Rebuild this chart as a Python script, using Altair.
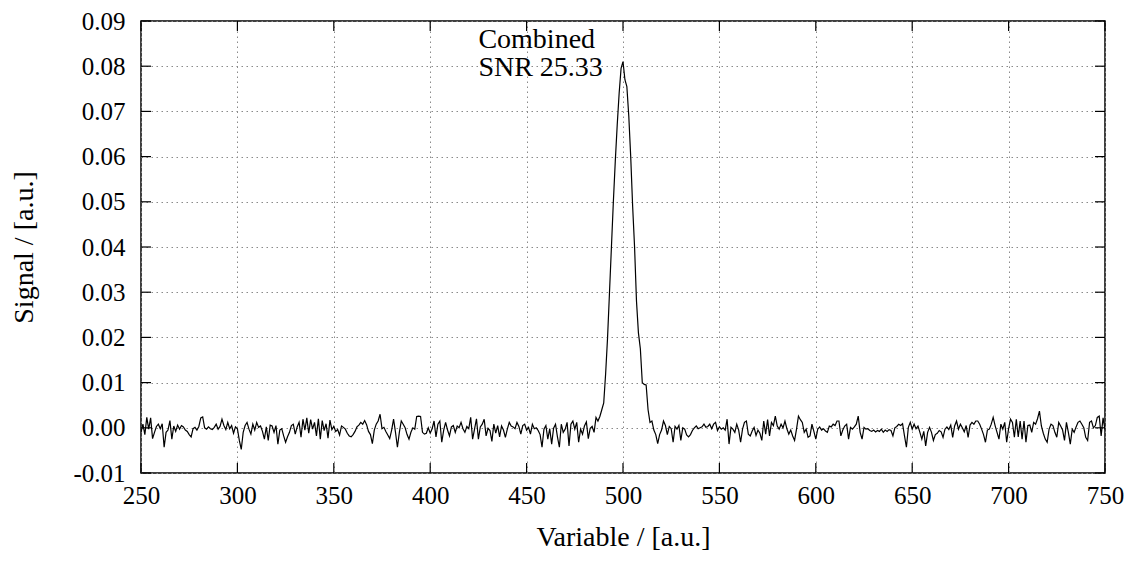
import altair as alt
import pandas as pd

# ---- data (values in thousandths of a.u.), x = 250..750 step 1 ----
x_start = 250
signal_milli = [
    -1.0, 0.8, -1.5, 2.3, -0.3, 2.2, -2.4, -1.0, 0.3, 0.8,
    -0.2, 0.9, -4.3, -1.0, -0.5, 1.6, -2.5, 0.4, -0.8, 0.6,
    -0.3, 0.5, 0.2, -0.5, -0.8, -1.5, -2.0, -0.2, 0.1, -0.5,
    0.3, 2.2, 2.4, 0.0, -0.3, 0.2, -0.2, -0.4, 0.1, 0.8,
    -0.3, 0.3, 1.9, 0.5, -0.4, 1.2, -0.2, 0.5, -1.2, 0.2,
    -0.2, -2.8, -4.8, -1.0, 0.5, 1.2, -0.3, -1.4, 0.8, -0.5,
    1.2, 0.1, 0.4, -0.8, -2.5, 0.2, -2.8, 0.6, 0.4, -1.0,
    0.5, -3.6, -0.5, -0.2, -1.8, -3.2, -2.0, -1.0, 0.5, 0.8,
    -1.4, 0.2, 1.2, -2.1, 1.9, -0.5, 2.2, -1.2, 1.8, -0.3,
    1.2, -1.8, 2.0, -2.5, 1.6, -0.6, 0.9, -2.3, 1.7, -0.4,
    0.3, -0.8, -0.4, -1.6, 0.4, 0.1, -0.3, -1.2, -1.8, -2.0,
    -1.5, -0.8, 0.2, 0.6, 1.2, 0.8, 1.6, 0.7, -0.8, -1.5,
    -3.5, -0.5, 0.8, 1.5, 3.0, -0.2, 0.1, -0.8, -1.6, -2.4,
    -0.5, 1.9, -1.0, -4.3, -1.0, 1.5, 0.8, 0.0, -1.5, -2.5,
    -1.0, 0.0, -0.3, 2.5, 2.6, 2.5, -1.0, -1.4, -1.2, 0.0,
    -1.2, -0.2, 1.5, -2.0, 0.8, 1.5, -3.2, -0.5, 1.2, -0.5,
    -1.8, 0.2, 0.5, -1.0, 0.4, 0.0, 1.2, -0.2, -1.0, 0.3,
    -0.2, 2.3, -2.5, -0.3, 2.0, -2.5, 0.2, 0.8, 1.9, -1.8,
    -0.1, -0.6, -3.0, 0.8, -1.2, 0.5, -2.0, 0.4, -0.5, -2.1,
    -0.3, 1.2, 0.4, 0.2, -0.2, 1.2, 0.3, -1.4, 0.5, 0.8,
    -0.5, 0.1, -1.4, 0.8, -0.2, 0.0, -0.6, -1.5, -4.3, -0.3,
    0.5, -2.5, -0.2, -3.6, -0.1, 0.8, -2.0, -4.3, 0.8, -1.0,
    -0.3, 1.2, -4.0, 0.8, 1.5, -0.3, 1.2, -3.2, -0.3, -1.4,
    0.4, 1.3, -2.4, -0.1, 0.3, -1.0, 2.3, 1.5, 2.5, 4.0,
    5.5, 12.0, 20.0, 30.0, 40.0, 50.0, 59.0, 67.0, 74.0, 79.5,
    81.0, 77.0, 75.5, 69.0, 60.0, 49.0, 40.0, 28.0, 21.0, 17.5,
    10.0, 9.6, 9.5, 4.0, 1.2, 1.5, -0.5, -1.5, -3.5, -1.5,
    -0.5, 1.5, 0.5, -1.5, 0.3, -0.2, -3.2, 0.3, -0.3, 0.5,
    -2.8, 0.0, -0.3, -1.6, -2.0, -1.5, -0.6, 0.0, 0.4, -0.2,
    0.0, 0.2, 0.8, 0.1, 0.3, 0.8, -0.2, 0.8, 1.2, -0.6,
    0.2, -0.3, 0.0, -0.5, 1.9, -3.6, 0.1, -0.3, -1.0, 0.8,
    -0.5, -3.2, -0.3, 1.2, 1.5, -1.4, -1.8, -0.7, 0.1, -1.7,
    -0.5, -1.2, -2.8, 1.5, -1.4, 1.8, -1.8, 1.2, 0.5, 2.6,
    0.4, -0.3, 0.8, 0.0, 1.5, -0.2, -1.4, -0.5, -1.8, -2.8,
    -0.3, 2.6, 1.8, 1.2, -1.0, -0.3, -2.1, -1.8, 0.8, -0.8,
    -2.5, -0.3, 0.2, -0.5, -0.2, -0.7, -1.0, 0.4, 0.2, 0.8,
    0.5, 1.5, 1.5, -1.8, -0.5, 0.4, 0.8, -2.5, 0.1, -0.3,
    0.2, 0.8, 2.6, -1.0, -2.5, 0.1, -0.3, -0.2, -0.6, -0.8,
    -0.5, -0.9, -0.6, -0.8, -0.3, -1.0, -0.5, -0.8, -0.4, -0.6,
    -1.8, 0.0, 0.3, 0.8, 0.5, 0.9, -1.8, -4.3, 0.1, 1.2,
    -0.3, 0.8, -0.2, 0.4, -1.0, -2.5, -0.8, -4.0, -1.0, 0.1,
    -1.0, -2.8, -1.5, -1.2, -0.6, -0.9, -2.1, -0.3, 0.2, -0.4,
    0.6, -2.1, 0.4, 1.5, -0.3, 0.8, 0.0, -0.9, 0.5, -2.1,
    0.6, 1.2, 0.8, 1.5, 1.5, 0.8, -0.3, -1.5, -3.2, -0.5,
    -0.3, 0.8, 2.3, 0.5, -1.0, -2.5, 0.8, -0.3, 1.2, -3.2,
    -0.2, 1.9, 1.2, -2.1, 1.9, -2.0, 1.5, -2.5, 1.5, -3.2,
    0.5, 0.6, -1.0, 1.2, 0.8, 2.0, 3.7, 0.4, -1.2, -2.5,
    -3.2, -0.3, 0.8, 0.5, -1.0, -2.1, 1.2, 0.4, -0.5, -2.8,
    1.2, -1.0, -3.6, -0.3, -1.0, 0.2, 1.2, 1.5, 0.8, 0.0,
    -2.1, -2.8, 1.2, 1.5, 0.0, 0.5, 2.3, 2.6, -1.8, 2.2,
    -0.4,
]

x_ticks = [250, 300, 350, 400, 450, 500, 550, 600, 650, 700, 750]
y_ticks = [-0.01, 0.0, 0.01, 0.02, 0.03, 0.04, 0.05, 0.06, 0.07, 0.08, 0.09]

ann_x = [425]
ann_y = [0.0841]
ann_text = ["Combined", "SNR 25.33"]

x_title = "Variable / [a.u.]"
y_title = "Signal / [a.u.]"

# ---- tables ----
df = pd.DataFrame({
    "x": [x_start + i for i in range(len(signal_milli))],
    "y": [v / 1000.0 for v in signal_milli],
})
df_xt = pd.DataFrame({"x": x_ticks})
df_yt = pd.DataFrame({"y": y_ticks})
df_ann = pd.DataFrame({"x": ann_x, "y": ann_y})

W, H = 964, 452
FONT = "Liberation Serif"
FS = 25
TFS = 28
TICK = 10

xscale = alt.Scale(domain=[250, 750], nice=False, zero=False)
yscale = alt.Scale(domain=[-0.01, 0.09], nice=False, zero=False)

xaxis = alt.Axis(
    values=x_ticks, title=x_title, ticks=False, domain=False,
    labelPadding=10, format="d",
    titleX=W / 2, titleY=72, titleBaseline="alphabetic", titleAnchor="middle",
)
yaxis = alt.Axis(
    values=y_ticks, title=y_title, ticks=False, domain=False,
    labelPadding=16,
    labelExpr="replace(format(datum.value, '.2f'), '\u2212', '-')",
    titleX=-109, titleY=H / 2, titleAngle=270, titleBaseline="alphabetic",
    titleAnchor="middle",
)

X = alt.X("x:Q", scale=xscale, axis=xaxis, title=x_title)
Y = alt.Y("y:Q", scale=yscale, axis=yaxis, title=y_title)

line = alt.Chart(df).mark_line(color="black", strokeWidth=1.2, clip=True).encode(x=X, y=Y)

xt_bottom = alt.Chart(df_xt).mark_rule(color="black", strokeWidth=1.2).encode(
    x=X, y=alt.value(H), y2=alt.value(H - TICK))
xt_top = alt.Chart(df_xt).mark_rule(color="black", strokeWidth=1.2).encode(
    x=X, y=alt.value(0), y2=alt.value(TICK))
yt_left = alt.Chart(df_yt).mark_rule(color="black", strokeWidth=1.2).encode(
    y=Y, x=alt.value(0), x2=alt.value(TICK))
yt_right = alt.Chart(df_yt).mark_rule(color="black", strokeWidth=1.2).encode(
    y=Y, x=alt.value(W), x2=alt.value(W - TICK))

ann = alt.Chart(df_ann).mark_text(
    text=ann_text, align="left", baseline="alphabetic", font=FONT,
    fontSize=TFS, lineHeight=28, color="black",
).encode(x=X, y=Y)

chart = alt.layer(line, xt_bottom, xt_top, yt_left, yt_right, ann).properties(
    width=W, height=H,
    autosize=alt.AutoSizeParams(type="none"),
    padding={"left": 133, "top": 13, "right": 19, "bottom": 80},
).configure(
    font=FONT,
    background="white",
).configure_view(
    stroke="black", strokeWidth=1.5,
).configure_axis(
    labelFont=FONT, titleFont=FONT, labelFontSize=FS, titleFontSize=TFS,
    labelColor="black", titleColor="black", titleFontWeight="normal",
    grid=True, gridColor="#8a8a8a", gridDash=[1.5, 3.5], gridWidth=1,
    labelFlush=False, labelOverlap=False,
)

chart.save("out.html", embed_options={"renderer": "svg", "actions": False})
